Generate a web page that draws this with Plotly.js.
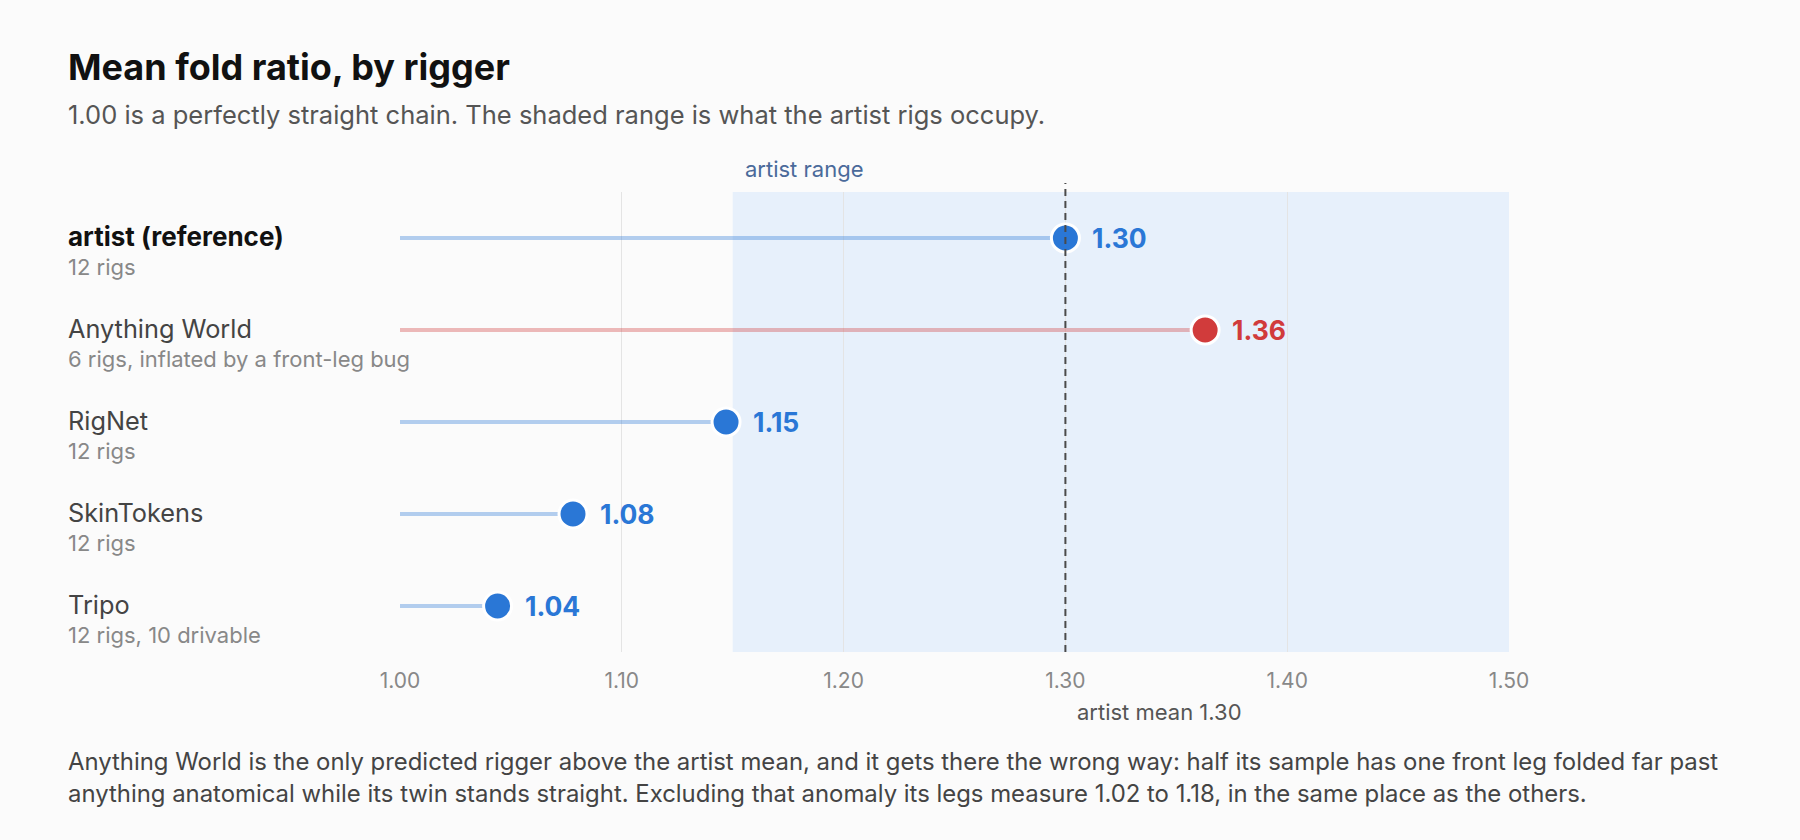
<!DOCTYPE html>
<html>
<head>
<meta charset="utf-8">
<script src="https://cdn.plot.ly/plotly-3.0.1.min.js"></script>
<style>
  html, body { margin: 0; padding: 0; background: #fbfbfb; }
</style>
</head>
<body>
<div id="chart" style="width:1800px;height:840px;"></div>
<script>
  // data
  var riggers = ['artist (reference)', 'Anything World', 'RigNet', 'SkinTokens', 'Tripo'];
  var notes = ['12 rigs', '6 rigs, inflated by a front-leg bug', '12 rigs', '12 rigs', '12 rigs, 10 drivable'];
  var foldRatio = [1.30, 1.363, 1.147, 1.078, 1.044];
  var artistRange = [1.15, 1.50];
  var artistMean = 1.30;
  var xTicks = [1.0, 1.1, 1.2, 1.3, 1.4, 1.5];

  var BLUE = '#2a77d6';
  var RED = '#d13b3b';
  var FONT = 'Inter, "Noto Sans", sans-serif';

  // the reference row is index 0; anything else above the artist mean is flagged red
  function rowColor(i) {
    return (i > 0 && foldRatio[i] > artistMean) ? RED : BLUE;
  }
  function stemColor(i) {
    return rowColor(i) === RED ? 'rgba(209,59,59,0.35)' : 'rgba(42,119,214,0.35)';
  }

  var data = [];
  for (var i = 0; i < riggers.length; i++) {
    data.push({
      x: [xTicks[0], foldRatio[i]],
      y: [riggers[i], riggers[i]],
      type: 'scatter',
      mode: 'lines',
      line: {color: stemColor(i), width: 4},
      hoverinfo: 'skip'
    });
  }
  data.push({
    x: foldRatio,
    y: riggers,
    type: 'scatter',
    mode: 'markers',
    marker: {
      size: 28,
      color: riggers.map(function(r, i) { return rowColor(i); }),
      line: {color: '#ffffff', width: 3}
    },
    cliponaxis: false,
    hoverinfo: 'x+y'
  });

  // pixel -> paper helpers for the fixed layout
  var PL = 400, PR = 1509, PT = 192, PB = 652;
  function px(xp) { return (xp - PL) / (PR - PL); }
  function py(yp) { return (PB - yp) / (PB - PT); }

  var annotations = [];
  for (var i = 0; i < riggers.length; i++) {
    annotations.push({
      x: px(66), xref: 'paper', xanchor: 'left',
      y: riggers[i], yref: 'y', yanchor: 'middle', yshift: 2,
      text: i === 0 ? '<b>' + riggers[i] + '</b>' : riggers[i],
      showarrow: false,
      font: {family: FONT, size: i === 0 ? 26 : 25.3, color: i === 0 ? '#111111' : '#444444'}
    });
    annotations.push({
      x: px(66), xref: 'paper', xanchor: 'left',
      y: riggers[i], yref: 'y', yanchor: 'middle', yshift: -29,
      text: notes[i],
      showarrow: false,
      font: {family: FONT, size: 22, color: '#888888'}
    });
    annotations.push({
      x: foldRatio[i], xref: 'x', xanchor: 'left', xshift: 25,
      y: riggers[i], yref: 'y', yanchor: 'middle',
      text: '<b>' + foldRatio[i].toFixed(2) + '</b>',
      showarrow: false,
      font: {family: FONT, size: 26.5, color: rowColor(i)}
    });
  }
  annotations.push({
    x: px(66), xref: 'paper', xanchor: 'left',
    y: py(115), yref: 'paper', yanchor: 'middle',
    text: '1.00 is a perfectly straight chain. The shaded range is what the artist rigs occupy.',
    showarrow: false,
    font: {family: FONT, size: 25.5, color: '#555555'}
  });
  annotations.push({
    x: artistRange[0], xref: 'x', xanchor: 'left', xshift: 10,
    y: py(169), yref: 'paper', yanchor: 'middle',
    text: 'artist range',
    showarrow: false,
    font: {family: FONT, size: 22, color: '#4a6a9a'}
  });
  annotations.push({
    x: artistMean, xref: 'x', xanchor: 'left', xshift: 10,
    y: py(712), yref: 'paper', yanchor: 'middle',
    text: 'artist mean ' + artistMean.toFixed(2),
    showarrow: false,
    font: {family: FONT, size: 22, color: '#555555'}
  });
  annotations.push({
    x: px(66), xref: 'paper', xanchor: 'left',
    y: py(761), yref: 'paper', yanchor: 'middle',
    text: 'Anything World is the only predicted rigger above the artist mean, and it gets there the wrong way: half its sample has one front leg folded far past',
    showarrow: false,
    font: {family: FONT, size: 23.9, color: '#444444'}
  });
  annotations.push({
    x: px(66), xref: 'paper', xanchor: 'left',
    y: py(793), yref: 'paper', yanchor: 'middle',
    text: 'anything anatomical while its twin stands straight. Excluding that anomaly its legs measure 1.02 to 1.18, in the same place as the others.',
    showarrow: false,
    font: {family: FONT, size: 23.9, color: '#444444'}
  });

  var layout = {
    width: 1800,
    height: 840,
    paper_bgcolor: '#fbfbfb',
    plot_bgcolor: '#fbfbfb',
    margin: {l: PL, r: 1800 - PR, t: PT, b: 840 - PB, pad: 0},
    showlegend: false,
    font: {family: FONT},
    title: {
      text: '<b>Mean fold ratio, by rigger</b>',
      x: 68 / 1800, xref: 'container', xanchor: 'left',
      y: 1 - 67 / 840, yref: 'container', yanchor: 'middle',
      font: {family: FONT, size: 36, color: '#111111'}
    },
    xaxis: {
      range: [xTicks[0], xTicks[xTicks.length - 1]],
      tickvals: xTicks,
      ticktext: xTicks.map(function(v) { return v.toFixed(2); }),
      showgrid: true,
      gridcolor: '#e4e4e4',
      gridwidth: 1,
      zeroline: false,
      showline: false,
      ticks: '',
      ticklabelstandoff: 14,
      tickfont: {family: FONT, size: 21, color: '#888888'},
      fixedrange: true
    },
    yaxis: {
      type: 'category',
      categoryorder: 'array',
      categoryarray: riggers,
      range: [riggers.length - 0.5, -0.5],
      showgrid: false,
      zeroline: false,
      showticklabels: false,
      ticks: '',
      fixedrange: true
    },
    shapes: [
      {
        type: 'rect', layer: 'below',
        xref: 'x', x0: artistRange[0], x1: artistRange[1],
        yref: 'paper', y0: 0, y1: 1,
        fillcolor: '#e7f0fb', line: {width: 0}
      },
      {
        type: 'line', layer: 'above',
        xref: 'x', x0: artistMean, x1: artistMean,
        yref: 'paper', y0: 0, y1: py(183),
        line: {color: '#4a4a4a', width: 2, dash: '7px,5px'}
      }
    ],
    annotations: annotations
  };

  Plotly.newPlot('chart', data, layout, {displayModeBar: false, responsive: false});
</script>
</body>
</html>
